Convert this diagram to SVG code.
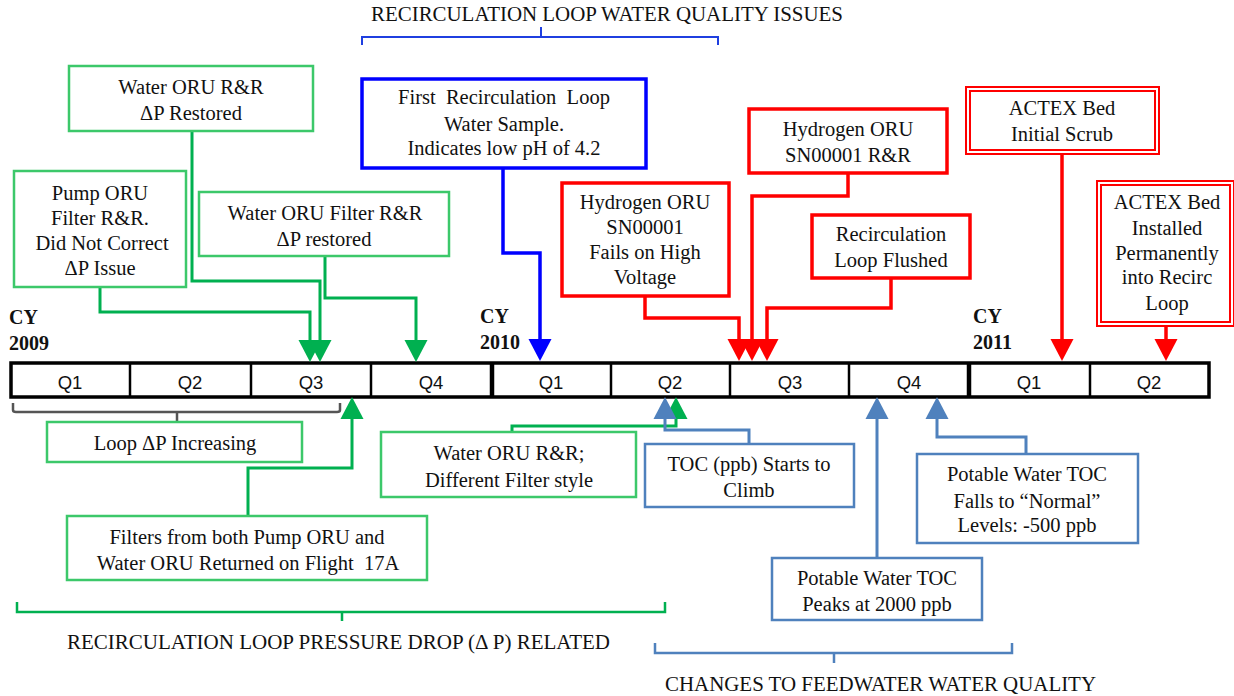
<svg xmlns="http://www.w3.org/2000/svg" width="1234" height="696" viewBox="0 0 1234 696">
<style>
.t{font-family:"Liberation Serif","Times New Roman",serif;font-size:20.5px;text-anchor:middle;fill:#111;white-space:pre}
.h{font-family:"Liberation Serif","Times New Roman",serif;font-size:20px;text-anchor:middle;fill:#111}
.cy{font-family:"Liberation Serif","Times New Roman",serif;font-size:20px;font-weight:bold;fill:#111}
.q{font-family:"Liberation Sans",Arial,sans-serif;font-size:18.5px;text-anchor:middle;fill:#111}
.gb{fill:#fff;stroke:#3CC86A;stroke-width:2.5}
.bb{fill:#fff;stroke:#0000FF;stroke-width:3.5}
.rb{fill:#fff;stroke:#FF0000;stroke-width:3.5}
.rd{fill:#fff;stroke:#FF0000;stroke-width:2}
.sb{fill:#fff;stroke:#4F81BD;stroke-width:2.5}
.cg{fill:none;stroke:#00B050;stroke-width:3;marker-end:url(#ag)}
.cb{fill:none;stroke:#0000FF;stroke-width:3.5;marker-end:url(#ab)}
.cr{fill:none;stroke:#FF0000;stroke-width:3.5;marker-end:url(#ar)}
.cs{fill:none;stroke:#4F81BD;stroke-width:3;marker-end:url(#as)}
.div{stroke:#000;stroke-width:2.5}
.divt{stroke:#000;stroke-width:4.5}
</style>
<defs>
<marker id="ag" markerUnits="userSpaceOnUse" markerWidth="24" markerHeight="24" viewBox="0 -12 24 24" refX="0" refY="0" orient="auto"><path d="M0,-11.5 L22,0 L0,11.5 z" fill="#00B050"/></marker>
<marker id="ab" markerUnits="userSpaceOnUse" markerWidth="24" markerHeight="24" viewBox="0 -12 24 24" refX="0" refY="0" orient="auto"><path d="M0,-11.5 L22,0 L0,11.5 z" fill="#0000FF"/></marker>
<marker id="ar" markerUnits="userSpaceOnUse" markerWidth="24" markerHeight="24" viewBox="0 -12 24 24" refX="0" refY="0" orient="auto"><path d="M0,-11.5 L22,0 L0,11.5 z" fill="#FF0000"/></marker>
<marker id="as" markerUnits="userSpaceOnUse" markerWidth="24" markerHeight="24" viewBox="0 -12 24 24" refX="0" refY="0" orient="auto"><path d="M0,-11.5 L22,0 L0,11.5 z" fill="#4F81BD"/></marker>
</defs>
<rect width="1234" height="696" fill="#fff"/>

<g id="title-top">
<text class="h" x="607" y="21" textLength="472" lengthAdjust="spacingAndGlyphs">RECIRCULATION LOOP WATER QUALITY ISSUES</text>
<path d="M362,45 V37 H718 V45 M541,37 V27" fill="none" stroke="#1F3FE0" stroke-width="2"/>
</g>

<g id="timeline">
<rect x="11" y="363" width="1198" height="34" fill="#fff" stroke="#000" stroke-width="3.5"/>
<line class="div" x1="130" y1="363" x2="130" y2="397"/>
<line class="div" x1="251" y1="363" x2="251" y2="397"/>
<line class="div" x1="371" y1="363" x2="371" y2="397"/>
<line class="divt" x1="492" y1="363" x2="492" y2="397"/>
<line class="div" x1="611" y1="363" x2="611" y2="397"/>
<line class="div" x1="730" y1="363" x2="730" y2="397"/>
<line class="div" x1="849" y1="363" x2="849" y2="397"/>
<line class="divt" x1="969" y1="363" x2="969" y2="397"/>
<line class="div" x1="1090" y1="363" x2="1090" y2="397"/>
<text class="q" x="70" y="389">Q1</text>
<text class="q" x="190" y="389">Q2</text>
<text class="q" x="311" y="389">Q3</text>
<text class="q" x="431" y="389">Q4</text>
<text class="q" x="551" y="389">Q1</text>
<text class="q" x="670" y="389">Q2</text>
<text class="q" x="790" y="389">Q3</text>
<text class="q" x="909" y="389">Q4</text>
<text class="q" x="1029" y="389">Q1</text>
<text class="q" x="1149" y="389">Q2</text>
<text class="cy" x="9" y="324">CY</text>
<text class="cy" x="9" y="350">2009</text>
<text class="cy" x="480" y="323">CY</text>
<text class="cy" x="480" y="349">2010</text>
<text class="cy" x="973" y="323">CY</text>
<text class="cy" x="973" y="349">2011</text>
</g>

<g id="connectors">
<path class="cg" d="M100,287 V312 H310 V340"/>
<path class="cg" d="M192,131 V281 H320 V340"/>
<path class="cg" d="M325,256 V298 H416 V340"/>
<path class="cg" d="M248,516 V468 H352 V419"/>
<path class="cg" d="M512,432 V426 H676 V419"/>
<path class="cb" d="M503,168 V253 H540 V339"/>
<path class="cr" d="M645,297 V318 H739 V339"/>
<path class="cr" d="M848,173 V196 H752 V339"/>
<path class="cr" d="M891,278 V308 H767 V339"/>
<path class="cr" d="M1062,154 V339"/>
<path class="cr" d="M1166,326 V339"/>
<path class="cs" d="M749,444 V430 H665 V419"/>
<path class="cs" d="M877,558 V419"/>
<path class="cs" d="M1026,454 V437 H937 V419"/>
</g>

<g id="n-water-oru-rr">
<rect class="gb" x="69" y="66" width="244" height="65"/>
<text class="t" x="191" y="94">Water ORU R&amp;R</text>
<text class="t" x="191" y="120">ΔP Restored</text>
</g>
<g id="n-pump-oru">
<rect class="gb" x="14" y="171" width="172" height="116"/>
<text class="t" x="100" y="200">Pump ORU</text>
<text class="t" x="100" y="225">Filter R&amp;R.</text>
<text class="t" x="102" y="250">Did Not Correct</text>
<text class="t" x="100" y="275">ΔP Issue</text>
</g>
<g id="n-water-oru-filter">
<rect class="gb" x="199" y="192" width="250" height="64"/>
<text class="t" x="325" y="220">Water ORU Filter R&amp;R</text>
<text class="t" x="324" y="246">ΔP restored</text>
</g>
<g id="n-loop-dp">
<path d="M13,403 V410 Q13,412 16,412 H337 Q340,412 340,410 V403 M177,412 V421" fill="none" stroke="#555" stroke-width="2.5"/>
<rect class="gb" x="47" y="422" width="255" height="40"/>
<text class="t" x="175" y="450">Loop ΔP Increasing</text>
</g>
<g id="n-filters-returned">
<rect class="gb" x="67" y="516" width="360" height="64"/>
<text class="t" x="247" y="544">Filters from both Pump ORU and</text>
<text class="t" x="248" y="570">Water ORU Returned on Flight  17A</text>
</g>
<g id="n-water-oru-different">
<rect class="gb" x="381" y="432" width="255" height="65"/>
<text class="t" x="509" y="460">Water ORU R&amp;R;</text>
<text class="t" x="509" y="487">Different Filter style</text>
</g>
<g id="n-first-sample">
<rect class="bb" x="362" y="79" width="284" height="89"/>
<text class="t" x="504" y="104">First  Recirculation  Loop</text>
<text class="t" x="504" y="131">Water Sample.</text>
<text class="t" x="504" y="155">Indicates low pH of 4.2</text>
</g>
<g id="n-h2-fails">
<rect class="rb" x="562" y="183" width="167" height="113"/>
<text class="t" x="645" y="209">Hydrogen ORU</text>
<text class="t" x="645" y="234">SN00001</text>
<text class="t" x="645" y="259">Fails on High</text>
<text class="t" x="645" y="284">Voltage</text>
</g>
<g id="n-h2-rr">
<rect class="rb" x="749" y="109" width="198" height="64"/>
<text class="t" x="848" y="136">Hydrogen ORU</text>
<text class="t" x="848" y="162">SN00001 R&amp;R</text>
</g>
<g id="n-flushed">
<rect class="rb" x="812" y="215" width="158" height="63"/>
<text class="t" x="891" y="241">Recirculation</text>
<text class="t" x="891" y="267">Loop Flushed</text>
</g>
<g id="n-actex-scrub">
<rect class="rd" x="966" y="87" width="193" height="67"/>
<rect class="rd" x="970" y="91" width="185" height="59"/>
<text class="t" x="1062" y="115">ACTEX Bed</text>
<text class="t" x="1062" y="141">Initial Scrub</text>
</g>
<g id="n-actex-installed">
<rect class="rd" x="1097" y="181" width="137" height="145"/>
<rect class="rd" x="1101" y="185" width="129" height="137"/>
<text class="t" x="1167" y="209">ACTEX Bed</text>
<text class="t" x="1167" y="235">Installed</text>
<text class="t" x="1167" y="260">Permanently</text>
<text class="t" x="1167" y="284">into Recirc</text>
<text class="t" x="1167" y="310">Loop</text>
</g>
<g id="n-toc-climb">
<rect class="sb" x="645" y="444" width="209" height="63"/>
<text class="t" x="749" y="471">TOC (ppb) Starts to</text>
<text class="t" x="749" y="497">Climb</text>
</g>
<g id="n-toc-peak">
<rect class="sb" x="772" y="558" width="210" height="62"/>
<text class="t" x="877" y="585">Potable Water TOC</text>
<text class="t" x="877" y="611">Peaks at 2000 ppb</text>
</g>
<g id="n-toc-normal">
<rect class="sb" x="917" y="454" width="221" height="89"/>
<text class="t" x="1027" y="481">Potable Water TOC</text>
<text class="t" x="1027" y="508">Falls to “Normal”</text>
<text class="t" x="1027" y="532">Levels: -500 ppb</text>
</g>

<g id="bottom-green">
<path d="M17,602 V612 H665 V602 M342,612 V621" fill="none" stroke="#00B050" stroke-width="2.5"/>
<text class="h" x="338.5" y="649" textLength="543" lengthAdjust="spacingAndGlyphs">RECIRCULATION LOOP PRESSURE DROP (Δ P) RELATED</text>
</g>
<g id="bottom-blue">
<path d="M655,643 V653 H1012 V643 M834,653 V663" fill="none" stroke="#4F81BD" stroke-width="2.5"/>
<text class="h" x="880.5" y="691" textLength="431" lengthAdjust="spacingAndGlyphs">CHANGES TO FEEDWATER WATER QUALITY</text>
</g>
</svg>
